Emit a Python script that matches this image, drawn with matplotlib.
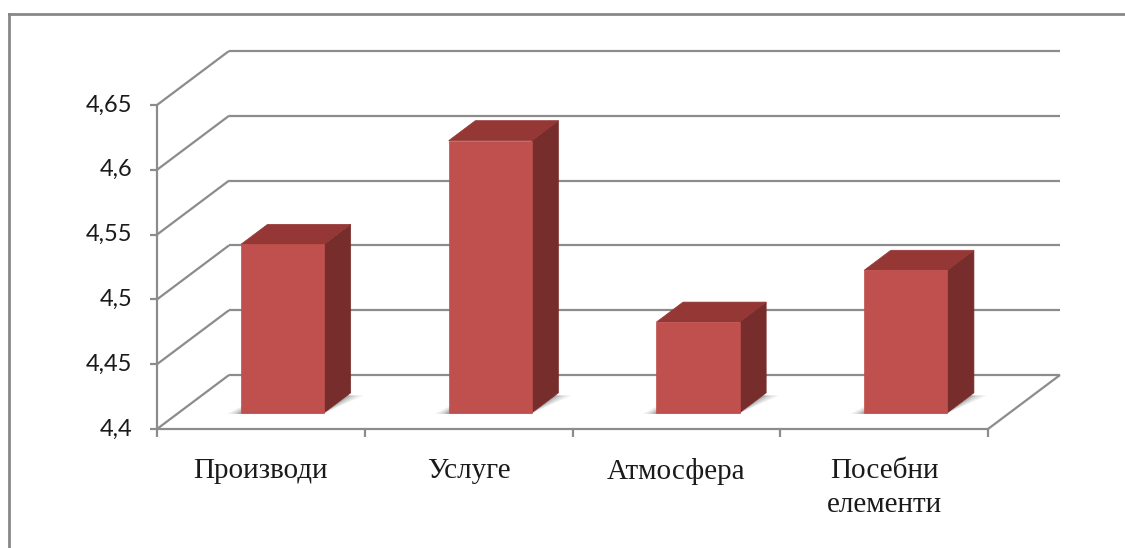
import matplotlib

matplotlib.use("Agg")
import matplotlib.pyplot as plt
import numpy as np
from matplotlib.patches import Polygon
from matplotlib.lines import Line2D

categories = ["Производи", "Услуге", "Атмосфера", "Посебни\nелементи"]
values = [4.53, 4.61, 4.47, 4.51]
y_ticks = [4.4, 4.45, 4.5, 4.55, 4.6, 4.65]
y_tick_labels = ["4,4", "4,45", "4,5", "4,55", "4,6", "4,65"]

FRONT = "#C0504D"
TOP = "#953735"
SIDE = "#772D2B"
GRID = "#8C8C8C"

# depth vector (full depth) in data units
DX = 72 / 207.75
DY = 54 / 1296.0
BAR_D0, BAR_D1 = 0.30, 0.67
BAR_W = 0.40
YMIN, YMAX = y_ticks[0], y_ticks[-1]


def proj(x, v, d):
    return (x + d * DX, v + d * DY)


W, H = 1125, 548
fig = plt.figure(figsize=(W / 100, H / 100), dpi=100)
ax = fig.add_axes([157 / W, (H - 429) / H, 831 / W, 324 / H])
ax.set_xlim(0, len(categories))
ax.set_ylim(YMIN, YMAX)
ax.axis("off")

n = len(categories)
line_kw = dict(color=GRID, linewidth=1.6, clip_on=False, solid_capstyle="butt")

# back wall gridlines and left wall diagonals
for v, lab in zip(y_ticks, y_tick_labels):
    x0, y0 = proj(0, v, 1)
    x1, y1 = proj(n, v, 1)
    ax.add_line(Line2D([x0, x1], [y0, y1], zorder=1, **line_kw))
    ax.add_line(Line2D([0, x0], [v, y0], zorder=1, **line_kw))
    # tick mark on front axis
    ax.add_line(Line2D([-0.035, 0], [v, v], zorder=1, **line_kw))
    ax.text(-0.12, v, lab, ha="right", va="center",
            fontsize=17, family="Lato", color="#1a1a1a")

# front vertical axis
ax.add_line(Line2D([0, 0], [YMIN, YMAX], zorder=1, **line_kw))

# floor
fx, fy = proj(n, YMIN, 1)
ax.add_line(Line2D([0, n], [YMIN, YMIN], zorder=1, **line_kw))
ax.add_line(Line2D([n, fx], [YMIN, fy], zorder=1, **line_kw))
for i in range(n + 1):
    ax.add_line(Line2D([i, i], [YMIN, YMIN - 0.006], zorder=1, **line_kw))

# bars
for i, (lab, val) in enumerate(zip(categories, values)):
    c = i + 0.5
    xl, xr = c - BAR_W / 2, c + BAR_W / 2

    # soft shadow of the footprint on the floor
    for k, a in zip([0.10, 0.075, 0.05, 0.03, 0.015], [0.07, 0.09, 0.11, 0.13, 0.15]):
        shadow = [proj(xl - k * 0.6, YMIN, BAR_D0 - 0.02), proj(xr, YMIN, BAR_D0 - 0.02),
                  proj(xr + k * 0.8, YMIN, BAR_D1 - 0.05), proj(xl, YMIN, BAR_D1)]
        ax.add_patch(Polygon(shadow, closed=True, facecolor="#444444", edgecolor="none",
                             alpha=a, zorder=2, clip_on=False))

    front = [proj(xl, YMIN, BAR_D0), proj(xr, YMIN, BAR_D0), proj(xr, val, BAR_D0), proj(xl, val, BAR_D0)]
    top = [proj(xl, val, BAR_D0), proj(xr, val, BAR_D0), proj(xr, val, BAR_D1), proj(xl, val, BAR_D1)]
    side = [proj(xr, YMIN, BAR_D0), proj(xr, YMIN, BAR_D1), proj(xr, val, BAR_D1), proj(xr, val, BAR_D0)]
    for poly, col in [(side, SIDE), (top, TOP), (front, FRONT)]:
        ax.add_patch(Polygon(poly, closed=True, facecolor=col, edgecolor=col, linewidth=0.5,
                             zorder=3, clip_on=False))

    ax.text(c, YMIN - 0.022, lab, ha="center", va="top", fontsize=21, family="Liberation Serif",
            color="#1a1a1a", linespacing=1.4)

# outer chart frame (cropped on right and bottom)
fig.add_artist(Line2D([9 / W, 1], [1 - 14 / H, 1 - 14 / H], transform=fig.transFigure,
                      color="#878787", linewidth=2.0))
fig.add_artist(Line2D([9 / W, 9 / W], [0, 1 - 14 / H], transform=fig.transFigure,
                      color="#878787", linewidth=2.0))

fig.savefig("out.png", dpi=100)
